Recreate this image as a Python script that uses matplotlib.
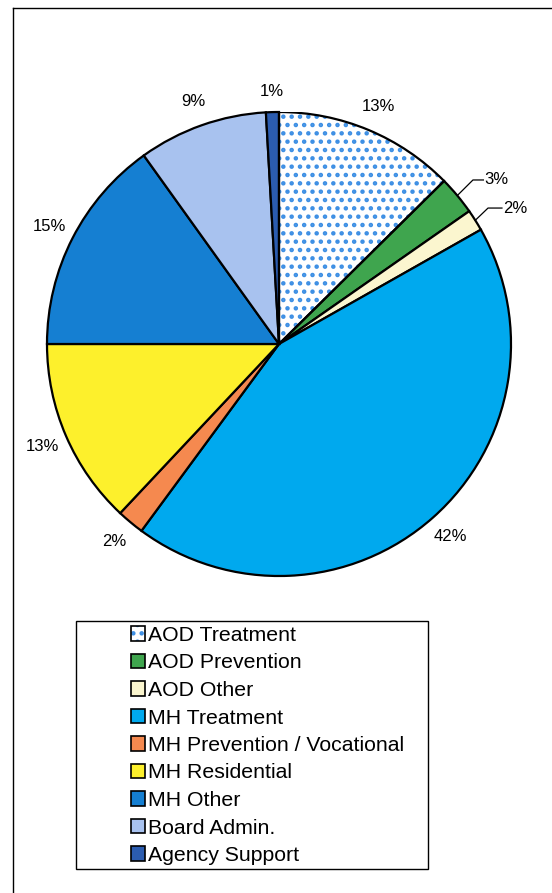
import matplotlib
matplotlib.use("Agg")
import matplotlib.pyplot as plt
import numpy as np
from matplotlib.patches import Patch, Wedge, Rectangle
from matplotlib.lines import Line2D

plt.rcParams['font.family'] = ['Liberation Sans', 'DejaVu Sans']
plt.rcParams['hatch.linewidth'] = 2.0

categories = ["AOD Treatment", "AOD Prevention", "AOD Other", "MH Treatment",
              "MH Prevention / Vocational", "MH Residential", "MH Other",
              "Board Admin.", "Agency Support"]
values = [12.6, 2.7, 1.5, 43.3, 1.9, 13.0, 15.1, 9.0, 0.9]
labels = ["13%", "3%", "2%", "42%", "2%", "13%", "15%", "9%", "1%"]
colors = ["#ffffff", "#3fa54e", "#fbf6cf", "#00a9ee", "#f5894f",
          "#fdf02c", "#157fd2", "#a8c2ef", "#2b5cb0"]
hatch_color = "#3d8fe4"

W, H = 552, 893
fig = plt.figure(figsize=(W / 100, H / 100), dpi=100)
fig.patch.set_facecolor("white")

cx, cy, r = 279, 344, 232
ax = fig.add_axes([(cx - r) / W, 1 - (cy + r) / H, 2 * r / W, 2 * r / H])
wedges, _ = ax.pie(values, colors=colors, startangle=90, counterclock=False,
                   radius=1.0, wedgeprops=dict(edgecolor="black", linewidth=1.6))
ax.set_xlim(-1, 1)
ax.set_ylim(-1, 1)
ax.set_aspect("auto")
ax.axis("off")

# hatched first wedge
w0 = wedges[0]
w0.set_edgecolor(hatch_color)
w0.set_hatch("..")
w0.set_linewidth(0)
ax.add_patch(Wedge(w0.center, w0.r, w0.theta1, w0.theta2, fill=False,
                   edgecolor="black", linewidth=1.6, zorder=3))

# labels
elbows = {1: (0.836, 0.707, 0.045), 2: (0.901, 0.586, 0.06)}
for i, (w, lab) in enumerate(zip(wedges, labels)):
    mid = np.deg2rad((w.theta1 + w.theta2) / 2)
    if i in elbows:
        ex, ey, dx_h = elbows[i]
        x0, y0 = np.cos(mid), np.sin(mid)
        ax.plot([x0, ex, ex + dx_h], [y0, ey, ey], color="black", lw=0.9,
                clip_on=False)
        ax.text(ex + dx_h + 0.006, ey, lab, ha="left", va="center",
                fontsize=12)
    else:
        d = 1.09 if i == 8 else 1.11
        ax.text(d * np.cos(mid), d * np.sin(mid), lab, ha="center",
                va="center", fontsize=12)

# legend box
fig.patches.append(Rectangle((76 / W, 1 - 869 / H), (428 - 76) / W,
                             (869 - 621) / H, transform=fig.transFigure,
                             fill=False, edgecolor="black", linewidth=1.0))
# outer border
fig.lines.append(Line2D([13 / W, 13 / W], [0, 1 - 8 / H],
                        transform=fig.transFigure, color="black", lw=1.0))
fig.lines.append(Line2D([13 / W, 1], [1 - 8 / H, 1 - 8 / H],
                        transform=fig.transFigure, color="black", lw=1.0))

handles = []
for i, c in enumerate(colors):
    if i == 0:
        handles.append((Patch(facecolor="white", edgecolor=hatch_color,
                              hatch="..", linewidth=0),
                        Patch(fill=False, edgecolor="black", linewidth=1.2)))
    else:
        handles.append(Patch(facecolor=c, edgecolor="black", linewidth=1.2))

fig.legend(handles, categories, loc="upper left",
           bbox_to_anchor=(131 / W, 1 - 626 / H), frameon=False,
           fontsize=15.3, handlelength=0.66, handleheight=0.66,
           handletextpad=0.15, labelspacing=0.40, borderpad=0,
           borderaxespad=0)

fig.savefig("out.png", dpi=100, facecolor="white")
